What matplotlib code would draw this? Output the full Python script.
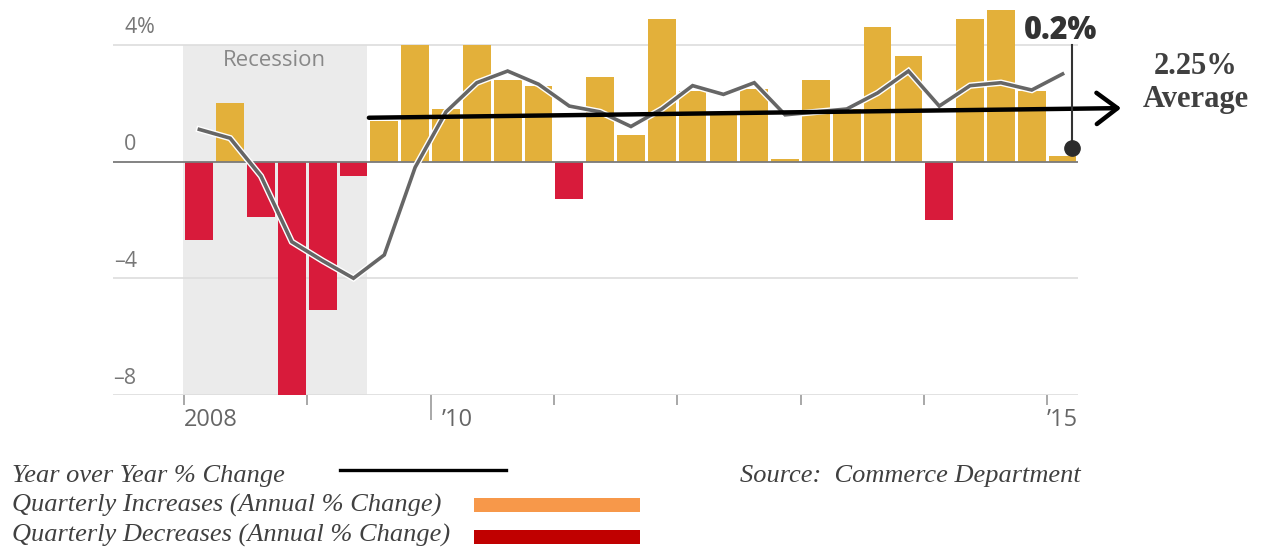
import matplotlib
matplotlib.use("Agg")
import matplotlib.pyplot as plt
import matplotlib.patheffects as pe
from matplotlib.lines import Line2D
from matplotlib.patches import Rectangle

# Real GDP, quarterly, 2008 Q1 .. 2015 Q1
years = list(range(2008, 2016))
qoq_change = [-2.7, 2.0, -1.9, -8.2, -5.1, -0.5, 1.4, 4.0, 1.8, 4.0, 2.8, 2.6,
              -1.3, 2.9, 0.9, 4.9, 2.4, 1.7, 2.5, 0.1, 2.8, 1.8, 4.6, 3.6,
              -2.0, 4.9, 5.2, 2.4, 0.2]
yoy_change = [1.1, 0.8, -0.5, -2.75, -3.4, -4.0, -3.2, -0.2, 1.7, 2.7, 3.1, 2.65,
              1.9, 1.7, 1.2, 1.8, 2.6, 2.3, 2.7, 1.6, 1.7, 1.8, 2.35, 3.1,
              1.9, 2.6, 2.7, 2.45, 3.0]
y_ticks = [4, 0, -4, -8]
year_labels = {2008: "2008", 2010: "\u201910", 2015: "\u201915"}
recession_quarters = (0, 6)          # 2008 Q1 through 2009 Q2
avg_label = "2.25%\nAverage"
avg_start = (6.0, 1.5)
avg_end = (30.4, 1.83)

GOLD = "#e3b03a"
RED = "#d81b3b"
SANS = ["Open Sans", "DejaVu Sans"]
SERIF = ["Liberation Serif", "DejaVu Serif"]

fig = plt.figure(figsize=(12.61, 5.5), dpi=100)
W, H = 1261, 550
# axes box in pixel terms: left 113, right 1078, bottom (-8) at 395
ax = fig.add_axes([113 / W, (H - 395) / H, 965 / W, 394 / H])
ax.set_xlim(-2.3, 29.0)
ax.set_ylim(-8, 5.5)
for s in ax.spines.values():
    s.set_visible(False)
ax.set_yticks([])

# recession shading
r0, r1 = recession_quarters
ax.add_patch(Rectangle((r0 - 0.03, -8), r1 - r0 - 0.04, 12, color="#ebebeb",
                       zorder=0, lw=0))
ax.text((r0 + r1) / 2 - 0.05, 3.45, "Recession", ha="center", va="center",
        fontsize=16, color="#888888", family=SANS)

# grid
for v in y_ticks:
    if v == 0:
        ax.axhline(v, color="#7a7a7a", lw=1.3, zorder=3)
    else:
        ax.axhline(v, color="#dddddd", lw=1.2, zorder=0.5)
    ax.text(0.0245, v + 0.22, str(v).replace("-", "\u2013"), transform=ax.get_yaxis_transform(),
            ha="right", va="bottom", fontsize=15.5, color="#777777", family=SANS)
ax.text(0.0245, 4.22, "%", transform=ax.get_yaxis_transform(), ha="left",
        va="bottom", fontsize=15.5, color="#777777", family=SANS)

# quarterly bars
xs = list(range(len(qoq_change)))
colors = [GOLD if v >= 0 else RED for v in qoq_change]
ax.bar([x + 0.05 for x in xs], qoq_change, width=0.9, align="edge",
       color=colors, zorder=2, lw=0)

# year-over-year line with white halo
ax.plot([x + 0.5 for x in xs], yoy_change, color="#666666", lw=2.6, zorder=4,
        solid_joinstyle="miter",
        path_effects=[pe.Stroke(linewidth=4.6, foreground="white"), pe.Normal()])

# x ticks at each year start
tick_pos = [(y - years[0]) * 4 for y in years]
ax.set_xticks(tick_pos)
ax.set_xticklabels([])
ax.tick_params(axis="x", length=7, width=1.2, color="#999999", pad=0)
big = ax.xaxis.get_major_ticks()[years.index(2010)]
big.tick1line.set_markersize(18)
big.tick1line.set_color("#555555")
for yr, lab in year_labels.items():
    x = (yr - years[0]) * 4
    dx = 8 if yr == 2010 else 0
    ax.annotate(lab, xy=(x, -8), xytext=(dx, -18), textcoords="offset points",
                ha="left", va="center", fontsize=17, color="#666666", family=SANS)

# average trend arrow
ax.annotate("", xy=avg_end, xytext=avg_start, annotation_clip=False,
            arrowprops=dict(arrowstyle="->,head_length=0.6,head_width=0.45",
                            lw=3.2, color="black", mutation_scale=25,
                            shrinkA=0, shrinkB=0), zorder=6)
fig.text(1196 / W, 1 - 83 / H, avg_label, ha="center", va="center",
         fontsize=22, fontweight="bold", color="#404040", family=SERIF,
         linespacing=1.15)

# callout for the latest quarter
last_x = len(qoq_change) - 1 + 0.8
last_v = qoq_change[-1]
ax.plot([last_x, last_x], [last_v + 0.25, 4.0], color="#333333", lw=1.5,
        zorder=6, clip_on=False)
ax.plot(last_x, last_v + 0.28, "o", ms=11, color="#2b2b2b", zorder=7, clip_on=False)
ax.text(last_x - 0.35, 4.48, f"{last_v}%", ha="center", va="center",
        fontsize=22, fontweight="heavy", color="#333333", family=SANS,
        zorder=7, clip_on=False)

# legend below the chart
leg_font = dict(fontsize=19, style="italic", color="#404040", family=SERIF)
fig.text(12 / W, 1 - 482 / H, "Year over Year % Change", va="baseline", **leg_font)
fig.text(12 / W, 1 - 512 / H, "Quarterly Increases (Annual % Change)", va="baseline", **leg_font)
fig.text(12 / W, 1 - 542 / H, "Quarterly Decreases (Annual % Change)", va="baseline", **leg_font)
fig.text(740 / W, 1 - 482 / H, "Source:  Commerce Department", va="baseline", **leg_font)
fig.add_artist(Line2D([340 / W, 506 / W], [1 - 470 / H] * 2, color="black", lw=2.4))
fig.add_artist(Rectangle((474 / W, 1 - 512 / H), 166 / W, 14 / H, color="#f7984a", lw=0))
fig.add_artist(Rectangle((474 / W, 1 - 544 / H), 166 / W, 14 / H, color="#c00000", lw=0))

fig.savefig("out.png", dpi=100)
